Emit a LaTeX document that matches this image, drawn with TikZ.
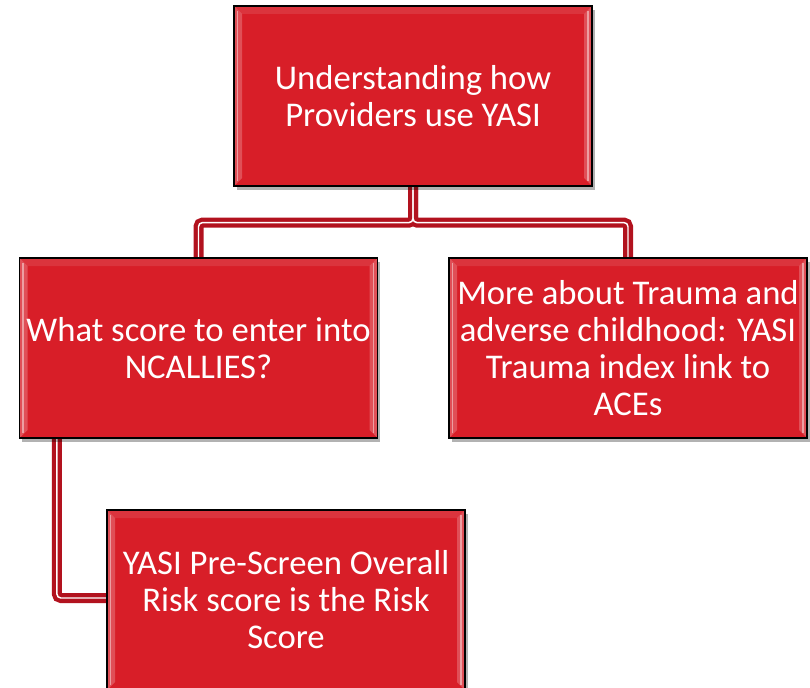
\documentclass[tikz,border=0pt]{standalone}
\usepackage{fontspec}
\setmainfont{Carlito}
\usetikzlibrary{shadows,backgrounds}
\definecolor{boxred}{RGB}{216,30,40}
\definecolor{linkred}{RGB}{178,18,30}
\tikzset{
  topicbox/.style={draw=black, line width=0.9pt, fill=boxred, text=white,
    align=center, inner sep=0pt, minimum width=268.5pt, minimum height=135pt,
    font=\fontsize{26}{27.8}\selectfont,
    drop shadow={shadow xshift=2pt, shadow yshift=-3pt, opacity=0.3, fill=black},
    path picture={
      \coordinate (nw) at (path picture bounding box.north west);
      \coordinate (se) at (path picture bounding box.south east);
      \coordinate (ne) at (path picture bounding box.north east);
      \coordinate (sw) at (path picture bounding box.south west);
      \fill[white, opacity=0.22] (nw) -- ([shift={(6pt,-6pt)}]nw) -- ([shift={(6pt,6pt)}]sw) -- (sw) -- cycle;
      \fill[white, opacity=0.22] (ne) -- ([shift={(-6pt,-6pt)}]ne) -- ([shift={(-6pt,6pt)}]se) -- (se) -- cycle;
      \fill[white, opacity=0.1] (nw) -- ([shift={(6pt,-6pt)}]nw) -- ([shift={(-6pt,-6pt)}]ne) -- (ne) -- cycle;
      \draw[white, opacity=0.45, line width=1pt] ([shift={(2.5pt,-4pt)}]nw) -- ([shift={(2.5pt,4pt)}]sw);
      \draw[white, opacity=0.45, line width=1pt] ([shift={(-3pt,-4pt)}]ne) -- ([shift={(-3pt,4pt)}]se);}},
  linkline/.style={draw=linkred, line width=7.5pt, rounded corners=3pt},
  linkshine/.style={draw=white, line width=1.1pt, rounded corners=3pt},
}
\begin{document}
\begin{tikzpicture}[x=0.75pt, y=-0.75pt]
  \useasboundingbox (0,0) rectangle (810,688);
  % topic boxes
  \node[topicbox] (main) at (413,96) {Understanding how\\Providers use YASI};
  \node[topicbox] (score) at (198.5,348) {What score to enter into\\NCALLIES?};
  \node[topicbox] (trauma) at (628,348) {More about Trauma and\\adverse childhood: YASI\\Trauma index link to\\ACEs};
  \node[topicbox] (risk) at (286,600) {YASI Pre-Screen Overall\\Risk score is the Risk\\Score};
  \coordinate (stem) at ([xshift=28.5pt]score.south west);
  % connectors
  \begin{scope}[on background layer]
    \draw[linkline] (main.south) -- ++(0,36) -| (score.north);
    \draw[linkline] (main.south) -- ++(0,36) -| (trauma.north);
    \draw[linkline] (stem) |- ([yshift=1.5pt]risk.west);
    \draw[linkshine, shift={(-2.5,-2.5)}] (main.south) -- ++(0,36) -| (score.north);
    \draw[linkshine, shift={(-2.5,-2.5)}] (main.south) -- ++(0,36) -| (trauma.north);
    \draw[linkshine, shift={(-2.5,2.5)}] (stem) |- ([yshift=1.5pt]risk.west);
  \end{scope}
\end{tikzpicture}
\end{document}
